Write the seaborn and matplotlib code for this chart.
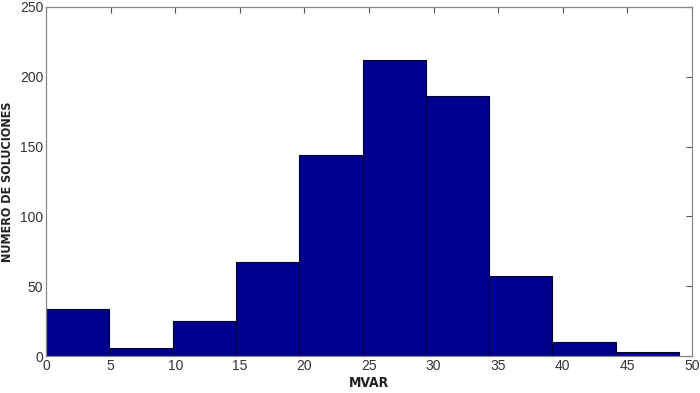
import matplotlib
matplotlib.use("Agg")
import matplotlib.pyplot as plt
import seaborn as sns
import numpy as np

bin_edges = [0, 4.9, 9.8, 14.7, 19.6, 24.5, 29.4, 34.3, 39.2, 44.1, 49.0]
counts = [34, 6, 25, 67, 144, 212, 186, 57, 10, 3]
x_ticks = [0, 5, 10, 15, 20, 25, 30, 35, 40, 45, 50]
y_ticks = [0, 50, 100, 150, 200, 250]
x_label = "MVAR"
y_label = "NÚMERO DE SOLUCIONES"

sns.set_theme(style="white")
plt.rcParams['font.family'] = ['Liberation Sans', 'DejaVu Sans']

fig = plt.figure(figsize=(7.0, 3.93), dpi=100)
ax = fig.add_axes([46/700, 1-356/393, (692-46)/700, (356-7)/393])

centers = [(bin_edges[i] + bin_edges[i+1]) / 2 for i in range(len(counts))]
sns.histplot(x=centers, weights=counts, bins=bin_edges, ax=ax,
             color="#00008F", edgecolor="#000033", linewidth=0.8, alpha=1.0)

ax.set_xlim(0, 50)
ax.set_ylim(0, 250)
ax.set_xticks(x_ticks)
ax.set_yticks(y_ticks)
ax.tick_params(axis='both', direction='in', length=4, width=0.8, color='#555555',
               labelsize=10, labelcolor='#333333', top=True, right=True, pad=2)
for s in ax.spines.values():
    s.set_color('#888888')
    s.set_linewidth(0.9)
ax.set_xlabel(x_label, fontsize=10, fontweight='bold', fontstretch='condensed',
              family=['DejaVu Sans'], color='#222222', labelpad=2)
ax.set_ylabel(y_label, fontsize=9, fontweight='bold', fontstretch='condensed',
              family=['DejaVu Sans'], color='#222222', labelpad=4)

fig.savefig("out.png", dpi=100)
